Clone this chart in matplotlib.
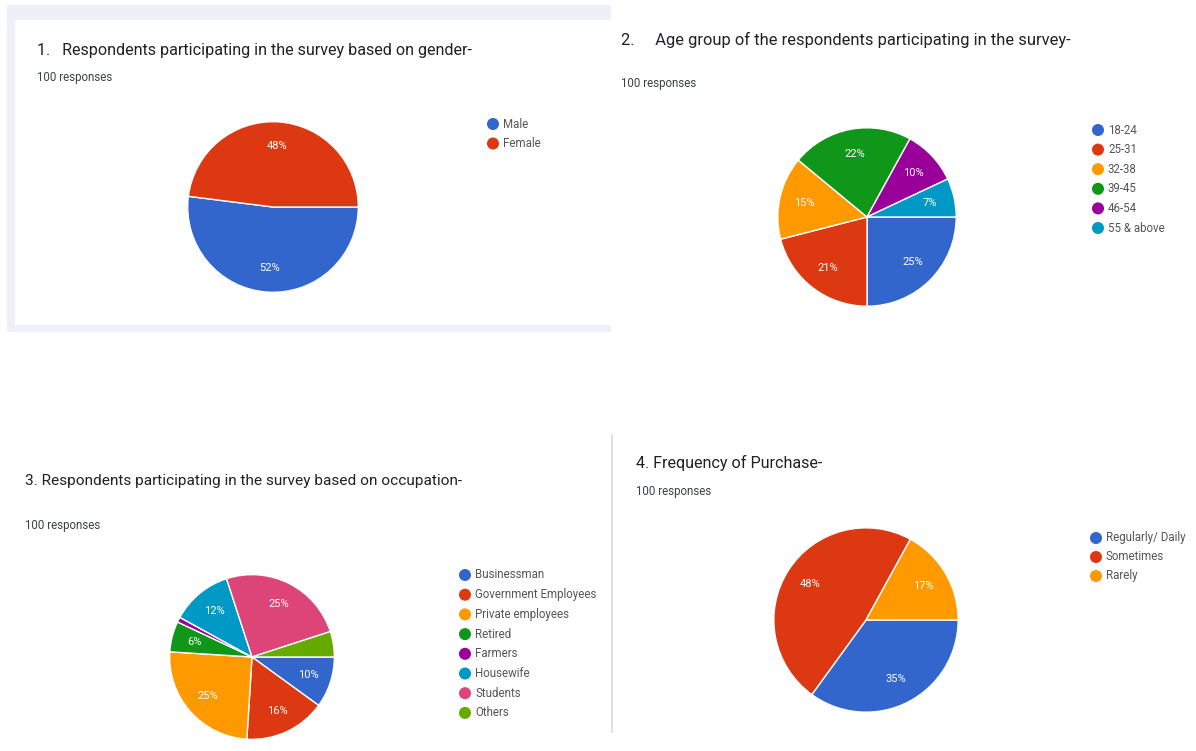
import matplotlib.pyplot as plt
from matplotlib.patches import Rectangle

# survey data (percent of 100 responses)
gender_labels = ["Male", "Female"]
gender_values = [52, 48]

age_labels = ["18-24", "25-31", "32-38", "39-45", "46-54", "55 & above"]
age_values = [25, 21, 15, 22, 10, 7]

occupation_labels = ["Businessman", "Government Employees", "Private employees", "Retired",
                     "Farmers", "Housewife", "Students", "Others"]
occupation_values = [10, 16, 25, 6, 1, 12, 25, 5]

frequency_labels = ["Regularly/ Daily", "Sometimes", "Rarely"]
frequency_values = [35, 48, 17]

titles = [
    "1.   Respondents participating in the survey based on gender-",
    "2.     Age group of the respondents participating in the survey-",
    "3. Respondents participating in the survey based on occupation-",
    "4. Frequency of Purchase-",
]

google = ["#3366cc", "#dc3912", "#ff9900", "#109618", "#990099", "#0099c6", "#dd4477", "#66aa00"]

W, H = 1196, 751
plt.rcParams['font.family'] = ['Roboto', 'DejaVu Sans']
fig = plt.figure(figsize=(W / 100, H / 100), dpi=100)
fig.patch.set_facecolor('white')

# overlay in pixel coordinates for cards, titles and legends
bg = fig.add_axes([0, 0, 1, 1])
bg.set_xlim(0, W)
bg.set_ylim(H, 0)
bg.axis('off')

# card frame of panel 1
bg.add_patch(Rectangle((7, 5), 604, 327, facecolor='#efeff9', edgecolor='none'))
bg.add_patch(Rectangle((15, 20), 596, 305, facecolor='white', edgecolor='none'))
# separator of panel 4
bg.plot([612, 612], [435, 732], color='#dadada', lw=1.2)


def pie_panel(values, cx, cy, r):
    ax = fig.add_axes([(cx - r) / W, 1 - (cy + r) / H, 2 * r / W, 2 * r / H])
    ax.pie(values, colors=google[:len(values)], startangle=0, counterclock=False,
           radius=1, wedgeprops=dict(edgecolor='white', linewidth=1),
           autopct=lambda p: f"{p:.0f}%" if p >= 6 else "", pctdistance=0.72,
           textprops=dict(color='white', fontsize=8))
    ax.set_xlim(-1.02, 1.02)
    ax.set_ylim(-1.02, 1.02)
    ax.axis('off')


def legend(labels, x, y0, step):
    for i, lab in enumerate(labels):
        y = y0 + i * step
        bg.scatter([x], [y], s=75, color=google[i], edgecolors='none')
        bg.text(x + 10, y, lab, fontsize=8.3, color='#555555', va='center', ha='left')


def header(title, x, ty, ry, size):
    bg.text(x, ty, title, fontsize=size, color='#202124', va='center', ha='left')
    bg.text(x, ry, "100 responses", fontsize=8.3, color='#3c4043', va='center', ha='left')


header(titles[0], 37, 50, 78, 11.6)
pie_panel(gender_values, 273, 207, 87)
legend(gender_labels, 493, 124, 19.5)

header(titles[1], 621, 40, 83, 11.9)
pie_panel(age_values, 867, 217, 91)
legend(age_labels, 1098, 130, 19.6)

header(titles[2], 25, 481, 526, 11.1)
pie_panel(occupation_values, 252, 657, 84)
legend(occupation_labels, 465, 575, 19.7)

header(titles[3], 636, 463, 492, 11.6)
pie_panel(frequency_values, 866, 620, 94)
legend(frequency_labels, 1096, 538, 19)

fig.savefig("out.png", dpi=100)
